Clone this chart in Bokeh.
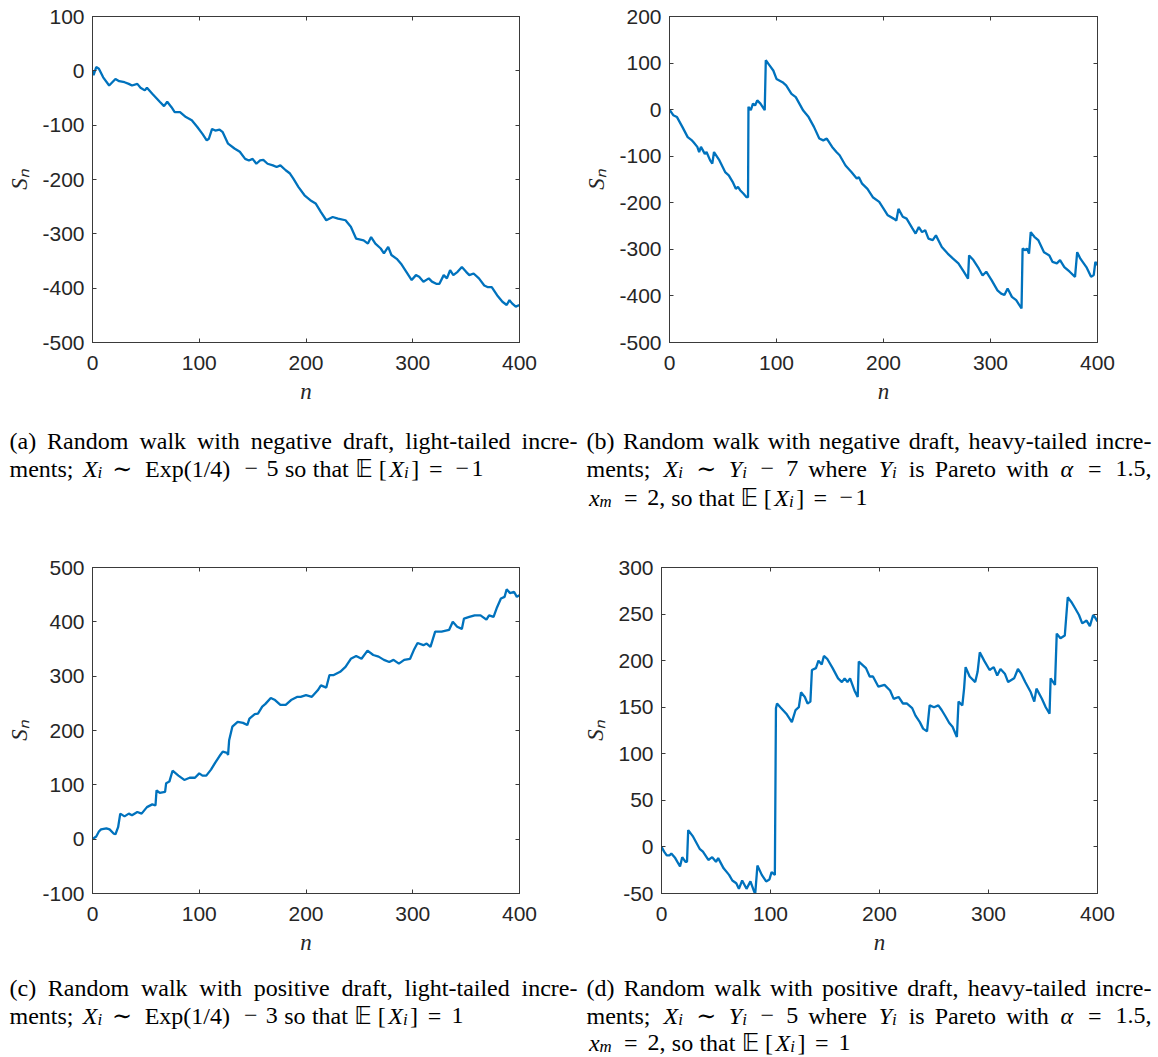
from bokeh.plotting import figure
from bokeh.models import Range1d, LinearAxis, FixedTicker, ColumnDataSource, CustomLabelingPolicy
from bokeh.layouts import column, row
from bokeh.embed import file_html
from bokeh.resources import INLINE
from bokeh.core.properties import field

# ---------------- data ----------------
n_a = [0, 1, 3.5, 6, 10, 15.6, 21.5, 25, 30, 34, 37, 42, 45, 49, 51, 56, 63, 67, 70, 74,
       77, 82, 87.5, 93, 98, 103, 107, 109, 112, 115, 119, 122, 127, 133, 138, 143, 146.5, 150, 153.5, 157,
       160, 164, 169, 172.5, 176, 181, 185, 188, 193, 198.6, 204, 209, 214, 219, 225, 230, 237, 242, 247, 254,
       258, 261, 265, 270, 273, 277, 280, 285, 289, 294, 299, 303, 306, 310, 315, 318, 322, 325, 329, 332,
       335, 338, 342, 346, 350, 353, 357, 362, 367, 370, 374, 379, 384, 388, 390.6, 393, 396.5, 400]
s_a = [0, -8, 7, 4, -12, -27, -15, -19, -21, -24, -27, -24, -31, -36, -31, -42, -57, -65, -57, -67,
       -76, -76, -85, -91, -103, -116, -128, -125, -107, -110, -108, -113, -134, -143, -149, -162, -165, -162, -171, -165,
       -164, -171, -174, -177, -174, -183, -189, -198, -214, -229, -238, -244, -260, -275, -269, -272, -275, -287, -309, -312,
       -318, -306, -318, -327, -336, -324, -339, -346, -355, -370, -385, -376, -379, -388, -382, -388, -392, -392, -376, -382,
       -367, -376, -370, -361, -370, -376, -373, -382, -395, -398, -398, -413, -425, -431, -422, -428, -434, -431]

n_b = [0, 3.5, 7, 12, 17, 21, 22.5, 26, 27.7, 29.4, 33, 34.6, 38, 40, 41.6, 46.7, 52, 55.4, 59, 62,
       64, 66, 69, 72, 73.4, 73.8, 76, 78, 80, 82, 85, 87, 89, 90, 93.5, 97, 100, 105.6, 109, 114,
       118, 125, 130, 135, 140, 143.7, 147, 152, 156, 159, 164.5, 170, 175, 177, 180, 185, 190, 196, 199, 204,
       209.5, 212, 214, 218, 221.6, 227, 230, 233, 236, 239, 242, 246, 249, 254.5, 260, 265, 270, 275, 279, 280,
       284, 289, 292.6, 296, 301, 306.5, 310, 313, 316, 320, 324, 329, 330, 332.5, 334, 336, 337.6, 341, 344.6, 350,
       355, 358, 362, 365, 369, 374, 379, 381, 384, 389.6, 394, 396.5, 398, 400]
s_b = [0, -12, -16, -37, -59, -66, -70, -80, -91, -80, -95, -91, -109, -116, -91, -109, -134, -141, -155, -170,
       -166, -173, -180, -188, -188, 6, -1, 13, 9, 20, 13, 6, -1, 106, 95, 84, 66, 59, 52, 34,
       27, -2, -16, -37, -62, -66, -62, -80, -91, -98, -120, -134, -148, -145, -159, -170, -188, -198, -209, -227,
       -234, -238, -213, -230, -234, -255, -266, -252, -263, -259, -277, -280, -270, -295, -309, -320, -330, -348, -363, -313,
       -323, -341, -356, -348, -366, -388, -395, -398, -384, -402, -409, -427, -298, -302, -298, -309, -263, -273, -280, -306,
       -313, -327, -330, -323, -338, -348, -359, -306, -320, -338, -359, -355, -327, -334]

n_c = [0, 3.5, 6, 8, 13, 16, 20, 21.5, 24, 26, 30, 34, 37, 42, 46, 51, 56, 59, 60, 63,
       68, 69, 72, 75, 80.5, 86, 91, 96, 100, 103, 106.6, 111, 115, 119, 122, 126, 127, 128, 131, 136,
       141, 145, 147, 152, 155, 159, 162, 167, 171, 176, 181, 186, 192, 195, 200, 205.5, 211, 214, 219, 222,
       226, 232, 237, 242, 247, 252, 257.6, 263, 268, 273, 278, 282, 287, 292, 297.5, 301, 304.5, 310, 313, 316.6,
       321, 327, 334, 337.5, 341.6, 346, 348, 353, 358, 363.5, 369, 371.5, 375.7, 379, 382.6, 386, 388, 391, 395, 397.5,
       400]
s_c = [0, 5, 14, 18, 20, 18, 10, 9, 22, 47, 42, 47, 44, 50, 47, 59, 64, 62, 90, 85,
       87, 103, 106, 126, 117, 109, 113, 113, 121, 117, 117, 128, 141, 153, 161, 159, 155, 182, 207, 216,
       214, 210, 222, 230, 231, 244, 249, 260, 256, 247, 247, 256, 262, 262, 265, 262, 274, 283, 279, 302,
       302, 308, 317, 332, 337, 332, 347, 339, 336, 330, 326, 330, 323, 330, 332, 348, 361, 357, 360, 354,
       382, 382, 385, 400, 391, 387, 406, 409, 412, 412, 404, 412, 409, 427, 443, 446, 460, 453, 455, 446,
       449]

n_d = [0, 2.4, 4.8, 7.5, 9, 12.6, 17, 19, 22, 23.4, 24.5, 29, 35, 38, 43, 46.5, 50, 52, 57, 62,
       65, 68.6, 71, 74, 78, 81.6, 85, 86, 88, 92, 96, 99, 101, 104, 105, 106, 109, 114.5, 119.6, 123,
       126, 128, 131.5, 134, 136.6, 138, 141.7, 144, 147, 149, 152, 157, 162, 165.5, 168, 170.6, 173, 177, 180, 181,
       187.6, 191, 194, 199, 204.6, 209.7, 213, 217.5, 221.5, 225, 230, 233, 237, 240, 243.6, 246, 250, 254, 257, 260.6,
       264, 267, 271, 272.5, 276, 277.6, 279, 282.7, 287.8, 290, 292, 296, 301, 304.8, 308, 311, 315, 318, 323.5, 327,
       330, 333.7, 338.8, 342, 344, 349, 352.5, 356, 357, 361, 362.6, 366, 370, 372.7, 376, 379.6, 383, 386, 390, 393,
       396, 398, 400]
s_d = [0, -5, -9, -9, -7, -12, -21, -11, -16, -16, 18, 11, -2, -5, -14, -11, -16, -12, -23, -30,
       -36, -39, -45, -36, -45, -37, -48, -50, -20, -30, -37, -35, -27, -30, 149, 154, 150, 143, 134, 147,
       150, 166, 161, 154, 156, 190, 192, 200, 196, 205, 202, 192, 181, 177, 181, 177, 181, 168, 161, 199,
       192, 183, 183, 172, 174, 168, 159, 161, 154, 154, 149, 141, 134, 127, 124, 152, 150, 152, 147, 140,
       133, 129, 118, 156, 152, 170, 193, 183, 177, 188, 209, 200, 190, 193, 184, 191, 186, 177, 181, 191,
       186, 177, 166, 156, 170, 159, 150, 143, 181, 174, 229, 224, 227, 268, 263, 256, 249, 240, 243, 237,
       249, 246, 242]

x_ticks = [0, 100, 200, 300, 400]
x_tick_labels = ["0", "100", "200", "300", "400"]
y_ticks_a = [-500, -400, -300, -200, -100, 0, 100]
y_labels_a = ["-500", "-400", "-300", "-200", "-100", "0", "100"]
y_ticks_b = [-500, -400, -300, -200, -100, 0, 100, 200]
y_labels_b = ["-500", "-400", "-300", "-200", "-100", "0", "100", "200"]
y_ticks_c = [-100, 0, 100, 200, 300, 400, 500]
y_labels_c = ["-100", "0", "100", "200", "300", "400", "500"]
y_ticks_d = [-50, 0, 50, 100, 150, 200, 250, 300]
y_labels_d = ["-50", "0", "50", "100", "150", "200", "250", "300"]

x_label = "n"
y_label = "S\u2099"

# ---------------- styling ----------------
AX = "#3a3a3a"
TXT = "#262626"
LINE = "#0072BD"

HIDE_LABELS = "for (const i of indices) { indices.unset(i) } return indices"


def style_axis(ax, ticks, labels=None, show=True):
    ax.ticker = FixedTicker(ticks=ticks)
    ax.major_tick_in = 4
    ax.major_tick_out = 0
    ax.minor_tick_in = 0
    ax.minor_tick_out = 0
    ax.axis_line_color = AX
    ax.major_tick_line_color = AX
    ax.axis_line_width = 1
    if show:
        ax.major_label_overrides = {float(t): l for t, l in zip(ticks, labels)}
        ax.major_label_text_font = "Liberation Sans"
        ax.major_label_text_font_size = "21px"
        ax.major_label_text_color = TXT
        ax.axis_label_text_font = "Liberation Serif"
        ax.axis_label_text_font_style = "italic"
        ax.axis_label_text_font_size = "23px"
        ax.axis_label_text_color = TXT
    else:
        ax.major_label_policy = CustomLabelingPolicy(code=HIDE_LABELS)
        ax.major_label_text_font_size = "1px"
        ax.major_label_standoff = 0


def make_plot(n, s, yticks, ylabels, w, h, bl, br, bt, bb):
    p = figure(width=w, height=h, x_range=Range1d(0, 400),
               y_range=Range1d(yticks[0], yticks[-1]),
               output_backend="svg", toolbar_location=None,
               min_border_left=bl, min_border_right=br,
               min_border_top=bt, min_border_bottom=bb,
               x_axis_label=x_label, y_axis_label=y_label)
    p.title = None
    p.line(n, s, line_color=LINE, line_width=2.3)
    p.grid.visible = False
    p.outline_line_color = AX
    p.background_fill_color = "white"
    p.border_fill_color = "white"
    p.add_layout(LinearAxis(), "above")
    p.add_layout(LinearAxis(), "right")
    style_axis(p.below[0], x_ticks, x_tick_labels)
    style_axis(p.left[0], yticks, ylabels)
    style_axis(p.above[0], x_ticks, show=False)
    style_axis(p.right[0], yticks, show=False)
    p.below[0].major_label_standoff = 13
    p.below[0].axis_label_standoff = 6
    p.left[0].major_label_standoff = 8
    p.left[0].axis_label_standoff = 7
    return p


fa = make_plot(n_a, s_a, y_ticks_a, y_labels_a, 580, 410, 92, 61, 16, 68)
fb = make_plot(n_b, s_b, y_ticks_b, y_labels_b, 577, 410, 89, 60, 16, 68)
fc = make_plot(n_c, s_c, y_ticks_c, y_labels_c, 580, 410, 92, 61, 17, 67)
fd = make_plot(n_d, s_d, y_ticks_d, y_labels_d, 577, 410, 81, 60, 17, 67)

# ---------------- captions ----------------
SERIF = "Liberation Serif"
FS = 24.0
BASE_FIX = -8.0   # the text glyph draws its baseline about 8px below the given y
ROMAN = {' ': 250, '(': 333, ')': 333, ',': 250, '-': 333, '.': 250, '/': 278, ';': 278,
         '=': 564, '[': 333, ']': 333, '\u2212': 564, 'E': 611, 'P': 556, 'R': 667,
         'X': 722, 'Y': 722, '\u223c': 838, '\U0001D53C': 700}
for ch in "0123456789":
    ROMAN[ch] = 500
ROMAN.update(dict(a=444, b=500, c=444, d=500, e=444, f=333, g=500, h=500, i=278, k=500,
                  l=278, m=778, n=500, o=500, p=500, r=333, s=389, t=278, v=500, w=722,
                  x=500, y=500))
ITALIC = {'X': 611, 'Y': 556, 'i': 278, 'm': 722, 'x': 444, '\u03b1': 500, 'n': 500}


def gw(text, style):
    tab = ITALIC if style == "italic" else ROMAN
    return sum(tab.get(c, 550) for c in text) / 1000.0


def run(text, style="normal", font=SERIF, slot=None, center=False):
    g = gw(text, style)
    return dict(kind="g", pieces=[(text, style, 1.0, 0.0, font)],
                w=slot if slot is not None else g, g=g, center=center)


def sub(base, index, slot):
    """italic symbol with an italic subscript, centred in its slot"""
    pieces = [(base, "italic", 1.0, 0.0, SERIF), (index, "italic", 0.7, 0.17, SERIF)]
    g = gw(base, "italic") + 0.7 * gw(index, "italic")
    return dict(kind="g", pieces=pieces, w=slot, g=g, center=True)


def sp(w=0.25):
    return dict(kind="s", w=w)


def words(sentence):
    out = []
    for k, wd in enumerate(sentence.split(" ")):
        if k:
            out.append(sp())
        out.append(run(wd))
    return out


def SIM():
    return run("\u223c", font="DejaVu Serif", slot=0.778, center=True)


def EQ():
    return run("=", slot=0.778, center=True)


def MINUS():
    return run("\u2212", slot=0.778, center=True)


def EE():
    return run("\U0001D53C", font="DejaVu Sans", slot=0.78)


def thick():
    return sp(0.30)


def med():
    return sp(0.222)


def expect(neg_value):
    tail = [EE(), sp(0.2), run("[", slot=0.30, center=True), sub("X", "i", 1.05),
            run("]", slot=0.30, center=True), thick(), EQ(), thick()]
    if neg_value:
        tail += [run("\u2212", slot=0.778, center=True)]
    return tail + [run("1")]


def light_line(shift):
    return [run("ments;"), sp(), sub("X", "i", 1.05), thick(), SIM(), thick(),
            run("Exp(1/4)", slot=4.04, center=True),
            med(), MINUS(), med(), run(shift), sp(), run("so"), sp(), run("that"), sp()]


def heavy_line(shift):
    return [run("ments;"), sp(), sub("X", "i", 1.05), thick(), SIM(), thick(),
            sub("Y", "i", 0.9), med(), MINUS(), med(), run(shift), sp(), run("where"), sp(),
            sub("Y", "i", 0.9), sp(), run("is"), sp(), run("Pareto"), sp(), run("with"), sp(),
            run("\u03b1", "italic", slot=0.64, center=True), thick(), EQ(), thick(), run("1.5,")]


def xm_line():
    return [sub("x", "m", 1.15), thick(), EQ(), thick(), run("2,"), sp(), run("so"), sp(),
            run("that"), sp()]


def lay(items, x0, y, out, x1=None):
    total = sum(it["w"] for it in items) * FS
    spaces = [it for it in items if it["kind"] == "s"]
    extra = 0.0
    if x1 is not None and spaces:
        extra = ((x1 - x0) - total) / len(spaces)
    x = x0
    for it in items:
        if it["kind"] == "s":
            x += it["w"] * FS + extra
            continue
        xs = x + ((it["w"] - it["g"]) * FS / 2 if it["center"] else 0)
        for text, style, scale, dy, font in it["pieces"]:
            out["x"].append(xs)
            out["y"].append(y + BASE_FIX + dy * FS)
            out["text"].append(text)
            out["font"].append(font)
            out["style"].append(style)
            out["size"].append("%.1fpx" % (FS * scale))
            xs += gw(text, style) * scale * FS
        x += it["w"] * FS


def caption_fig(w, h, blocks):
    data = dict(x=[], y=[], text=[], font=[], style=[], size=[])
    for items, x0, y, x1 in blocks:
        lay(items, x0, y, data, x1)
    p = figure(width=w, height=h, x_range=Range1d(0, w), y_range=Range1d(h, 0),
               x_axis_type=None, y_axis_type=None,
               output_backend="svg", toolbar_location=None,
               min_border=0, min_border_left=0, min_border_right=0,
               min_border_top=0, min_border_bottom=0)
    p.title = None
    p.grid.visible = False
    p.outline_line_color = None
    p.background_fill_color = "white"
    p.border_fill_color = "white"
    p.text(x="x", y="y", text="text", source=ColumnDataSource(data),
           text_font=field("font"), text_font_style=field("style"),
           text_font_size=field("size"), text_color="black",
           text_baseline="alphabetic", text_align="left")
    return p


XA0, XA1 = 9, 577
XB0, XB1 = 586, 1151

cap1 = caption_fig(1157, 140, [
    (words("(a) Random walk with negative draft, light-tailed incre-"), XA0, 38, XA1),
    (light_line("5") + expect(True), XA0, 66, 483),
    (words("(b) Random walk with negative draft, heavy-tailed incre-"), XB0, 38, XB1),
    (heavy_line("7"), XB0, 66, XB1),
    (xm_line() + expect(True), XB0, 95, 867),
])

cap2 = caption_fig(1157, 96, [
    (words("(c) Random walk with positive draft, light-tailed incre-"), XA0, 35, XA1),
    (light_line("3") + expect(False), XA0, 63, 463),
    (words("(d) Random walk with positive draft, heavy-tailed incre-"), XB0, 35, XB1),
    (heavy_line("5"), XB0, 63, XB1),
    (xm_line() + expect(False), XB0, 90, 850),
])

layout = column(row(fa, fb), cap1, row(fc, fd), cap2)
open("out.html", "w").write(file_html(layout, INLINE))
